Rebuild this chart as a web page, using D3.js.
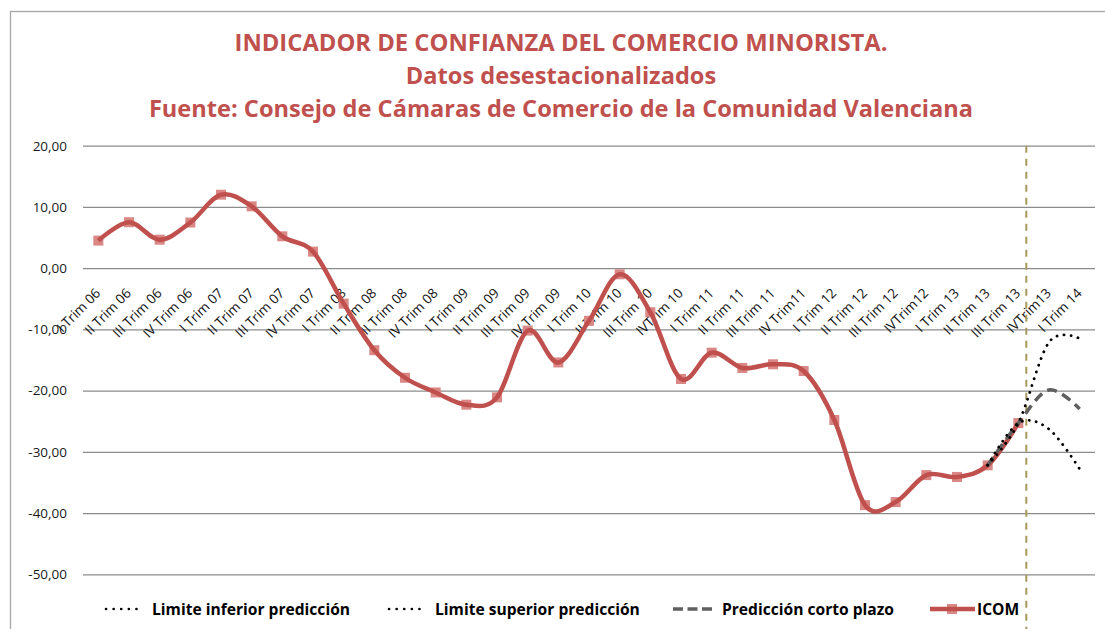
<!DOCTYPE html>
<html><head><meta charset="utf-8">
<script src="https://cdn.jsdelivr.net/npm/d3@7"></script>
<style>
body{margin:0;background:#fff}
svg{display:block}
text{font-family:"Open Sans","Noto Sans",sans-serif}
</style>
</head><body>
<svg id="c" width="1105" height="629"></svg>
<script>
const categories = ["I Trim 06","II Trim 06","III Trim 06","IV Trim 06","I Trim 07","II Trim 07","III Trim 07","IV Trim 07",
  "I Trim 08","II Trim 08","III Trim 08","IV Trim 08","I Trim 09","II Trim 09","III Trim 09","IV Trim 09",
  "I Trim 10","II Trim 10","III Trim 10","IVTrim 10","I Trim 11","II Trim 11","III Trim 11","IV Trim11",
  "I Trim 12","II Trim 12","III Trim 12","IVTrim12","I Trim 13","II Trim 13","III Trim 13","IVTrim13","I Trim 14"];
const icom = [4.5, 7.5, 4.65, 7.45, 12.0, 10.1, 5.2, 2.7,
  -5.8, -13.4, -17.9, -20.3, -22.3, -21.1, -10.2, -15.4,
  -8.6, -1.0, -7.2, -18.1, -13.8, -16.3, -15.7, -16.8,
  -24.8, -38.7, -38.2, -33.8, -34.1, -32.2, -25.3];
const predStart = 29; // category index of first prediction value
const lowerLimit = [-32.2, -25.3, -26.3, -32.8];
const upperLimit = [-32.2, -25.3, -12.1, -11.5];
const forecast   = [-32.2, -25.3, -19.9, -23.0];
const yTicks = [20, 10, 0, -10, -20, -30, -40, -50];
const dividerAt = 30.26; // category position of the vertical marker
const titleLines = ["INDICADOR DE CONFIANZA DEL COMERCIO MINORISTA.",
  "Datos desestacionalizados",
  "Fuente: Consejo de Cámaras de Comercio de la Comunidad Valenciana"];
const legendItems = [
  {name:"Limite inferior predicción", type:"dot"},
  {name:"Limite superior predicción", type:"dot"},
  {name:"Predicción corto plazo", type:"dash"},
  {name:"ICOM", type:"icom"}];

const W = 1105, H = 629;
const red = "#c0504d";
const svg = d3.select("#c");
const plot = {left:83, right:1095, top:145.7, bottom:574.3};

const x = d3.scaleLinear().domain([-0.5, categories.length - 0.5]).range([plot.left, plot.right]);
const y = d3.scaleLinear().domain([-50, 20]).range([plot.bottom, plot.top]);

// frame
svg.append("rect").attr("x",10.5).attr("y",11.5).attr("width",W+20).attr("height",H+20)
  .attr("fill","#fff").attr("stroke","#a6a6a6").attr("stroke-width",1.3);

// title
svg.append("g").selectAll("text").data(titleLines).join("text")
  .attr("x",561).attr("y",(d,i)=>[51,84,117][i])
  .attr("text-anchor","middle").attr("font-weight","bold").attr("font-size",(d,i)=>i===0?23.8:23.6)
  .attr("fill",red).text(d=>d);

// gridlines + y labels
const yAxis = d3.axisLeft(y).tickValues(yTicks).tickSize(-(plot.right-plot.left)).tickPadding(16)
  .tickFormat(d=>d3.format(".2f")(d).replace(".",",").replace("−","-"));
const gy = svg.append("g").attr("transform",`translate(${plot.left},0)`).call(yAxis);
gy.select(".domain").remove();
gy.selectAll(".tick line").attr("stroke","#8c8c8c").attr("stroke-width",1.3);
gy.selectAll(".tick text").attr("font-size",13.5).attr("fill","#1a1a1a").style("font-family","'Open Sans', sans-serif");

// category labels at the zero line
svg.append("g").selectAll("text").data(categories).join("text")
  .attr("transform",(d,i)=>`translate(${x(i)+3},${y(0)+26}) rotate(-45)`)
  .attr("text-anchor","end").attr("font-size",13.5).attr("fill","#111").text(d=>d);

// vertical divider
svg.append("line").attr("x1",x(dividerAt)).attr("x2",x(dividerAt)).attr("y1",plot.top).attr("y2",H)
  .attr("stroke","#a89a5c").attr("stroke-width",2).attr("stroke-dasharray","7 6");

const smooth = d3.curveCardinal.tension(0);
const lineIcom = d3.line().x((d,i)=>x(i)).y(d=>y(d)).curve(smooth);
const linePred = d3.line().x((d,i)=>x(i+predStart)).y(d=>y(d)).curve(smooth);

// ICOM markers then line
svg.append("g").selectAll("rect").data(icom).join("rect")
  .attr("x",(d,i)=>x(i)-5).attr("y",d=>y(d)-5).attr("width",10).attr("height",10)
  .attr("fill","#d98886");
svg.append("path").datum(icom).attr("d",lineIcom).attr("fill","none")
  .attr("stroke",red).attr("stroke-width",4.5).attr("stroke-linejoin","round");

// predictions
svg.append("path").datum(forecast).attr("d",linePred).attr("fill","none")
  .attr("stroke","#5f5f5f").attr("stroke-width",3.5).attr("stroke-dasharray","10 6");
[lowerLimit, upperLimit].forEach(arr=>{
  svg.append("path").datum(arr).attr("d",linePred).attr("fill","none")
    .attr("stroke","#000").attr("stroke-width",2.8).attr("stroke-linecap","round")
    .attr("stroke-dasharray","0.1 7");
});

// legend
const legX = [105, 388, 673, 930];
const legY = 609;
const lg = svg.append("g");
legendItems.forEach((it,k)=>{
  const g = lg.append("g").attr("transform",`translate(${legX[k]},${legY})`);
  if(it.type==="dot"){
    g.append("line").attr("x1",1).attr("x2",39).attr("stroke","#000").attr("stroke-width",2.6)
      .attr("stroke-linecap","round").attr("stroke-dasharray","0.1 7.5");
  } else if(it.type==="dash"){
    g.append("line").attr("x1",0).attr("x2",39).attr("stroke","#5f5f5f").attr("stroke-width",3.5)
      .attr("stroke-dasharray","10 4.5");
  } else {
    g.append("rect").attr("x",17).attr("y",-5).attr("width",10).attr("height",10).attr("fill","#d98886");
    g.append("line").attr("x1",0).attr("x2",45).attr("stroke",red).attr("stroke-width",4.5);
  }
  g.append("text").attr("x", it.type==="icom"?47:(it.type==="dash"?49:47)).attr("y",5.5)
    .attr("font-size",15.6).attr("font-weight","bold").attr("fill","#000").text(it.name);
});
</script>
</body></html>
